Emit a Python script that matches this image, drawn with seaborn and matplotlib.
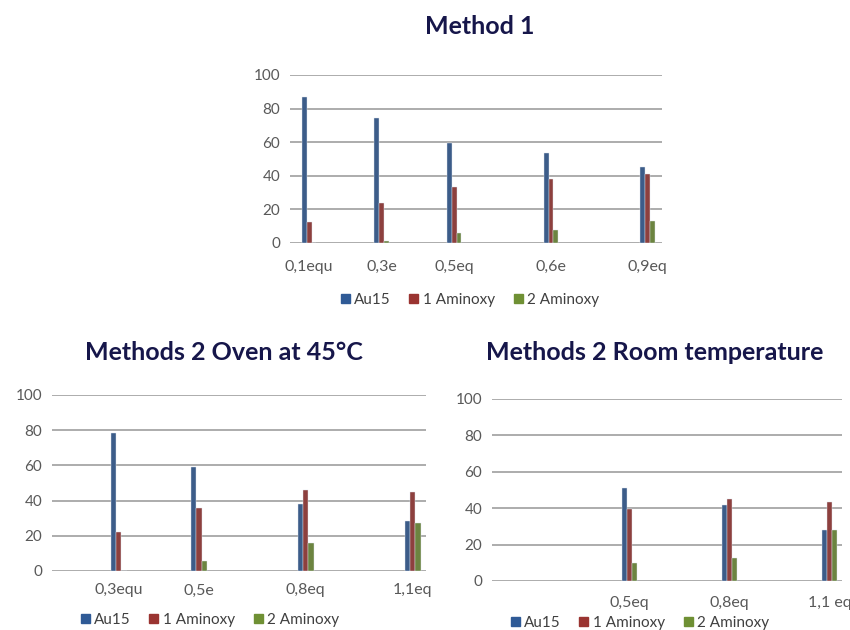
import matplotlib
matplotlib.use("Agg")
import pandas as pd
import matplotlib.pyplot as plt
import seaborn as sns

sns.set_style("white")
plt.rcParams["font.family"] = ["Lato", "DejaVu Sans"]

series = ["Au15", "1 Aminoxy", "2 Aminoxy"]
colors = ["#2F5A96", "#9A3431", "#6F9034"]

# Method 1 (blank entries are empty categories of the original axis)
m1_axis = ["0,1equ", "", "", "0,3e", "", "", "0,5eq", "", "", "", "0,6e", "", "", "", "0,9eq"]
m1_cats = ["0,1equ", "0,3e", "0,5eq", "0,6e", "0,9eq"]
m1_au15 = [87, 74.6, 59.6, 53.5, 45]
m1_amin1 = [12.2, 23.7, 33.6, 37.8, 41.2]
m1_amin2 = [0, 1, 6.2, 8, 13.3]

# Methods 2 oven at 45°C
ov_axis = ["", "", "0,3equ", "", "", "0,5e", "", "", "", "0,8eq", "", "", "", "1,1eq"]
ov_cats = ["0,3equ", "0,5e", "0,8eq", "1,1eq"]
ov_au15 = [78.1, 59.2, 38.2, 28.2]
ov_amin1 = [21.9, 35.5, 45.9, 44.8]
ov_amin2 = [0, 5.5, 16.1, 27]

# Methods 2 room temperature
rt_axis = ["", "", "", "", "", "0,5eq", "", "", "", "0,8eq", "", "", "", "1,1 eq"]
rt_cats = ["0,5eq", "0,8eq", "1,1 eq"]
rt_au15 = [50.9, 41.8, 28]
rt_amin1 = [39.6, 45.1, 43.6]
rt_amin2 = [9.7, 12.8, 28.2]


def panel(ax, axis_cats, cats, au, a1, a2, xlim, pad):
    order = [c if c else "_gap%d" % i for i, c in enumerate(axis_cats)]
    df = pd.DataFrame({
        "cat": cats * 3,
        "series": [s for s in series for _ in cats],
        "value": au + a1 + a2,
    })
    sns.barplot(data=df, x="cat", y="value", hue="series", order=order,
                hue_order=series, palette=colors, width=0.6, ax=ax,
                edgecolor="#dfe6ee", linewidth=0.3, legend=False)
    ax.set_ylim(0, 100)
    ax.set_xlim(*xlim)
    ax.set_yticks(range(0, 101, 20))
    ax.set_xticks(range(len(order)))
    ax.set_xticklabels(axis_cats)
    ax.grid(axis="y", color="#a6a6a6", linewidth=1.3)
    ax.set_axisbelow(True)
    ax.set_xlabel("")
    ax.set_ylabel("")
    for sp in ax.spines.values():
        sp.set_visible(False)
    ax.tick_params(axis="y", length=0, pad=7, labelsize=11, labelcolor="#595959")
    ax.tick_params(axis="x", length=0, pad=pad, labelsize=11.5, labelcolor="#595959")


fig = plt.figure(figsize=(8.5, 6.3), dpi=100)
ax1 = fig.add_axes([0.341, 0.6143, 0.438, 0.2667])
ax2 = fig.add_axes([0.0612, 0.0937, 0.44, 0.2794])
ax3 = fig.add_axes([0.5788, 0.0778, 0.4118, 0.2889])

panel(ax1, m1_axis, m1_cats, m1_au15, m1_amin1, m1_amin2, (-0.8, 14.6), 12)
panel(ax2, ov_axis, ov_cats, ov_au15, ov_amin1, ov_amin2, (-0.5, 13.5), 9)
panel(ax3, rt_axis, rt_cats, rt_au15, rt_amin1, rt_amin2, (-0.5, 13.5), 11)

title_kw = dict(fontsize=18, fontweight="bold", color="#16164a", ha="center", va="center")
fig.text(480 / 850, 1 - 27 / 630, "Method 1", **title_kw)
fig.text(224 / 850, 1 - 352 / 630, "Methods 2 Oven at 45°C", **title_kw)
fig.text(655 / 850, 1 - 352 / 630, "Methods 2 Room temperature", **title_kw)

handles = [plt.Rectangle((0, 0), 1, 1, color=c) for c in colors]
leg_kw = dict(ncol=3, frameon=False, fontsize=11, handlelength=0.6, handleheight=0.6,
              handletextpad=0.3, columnspacing=1.2, loc="center", labelcolor="#404040")
for (x, y) in [(470, 300), (210, 620), (640, 623)]:
    fig.legend(handles, series, bbox_to_anchor=(x / 850, 1 - y / 630), **leg_kw)

fig.savefig("out.png", dpi=100)
